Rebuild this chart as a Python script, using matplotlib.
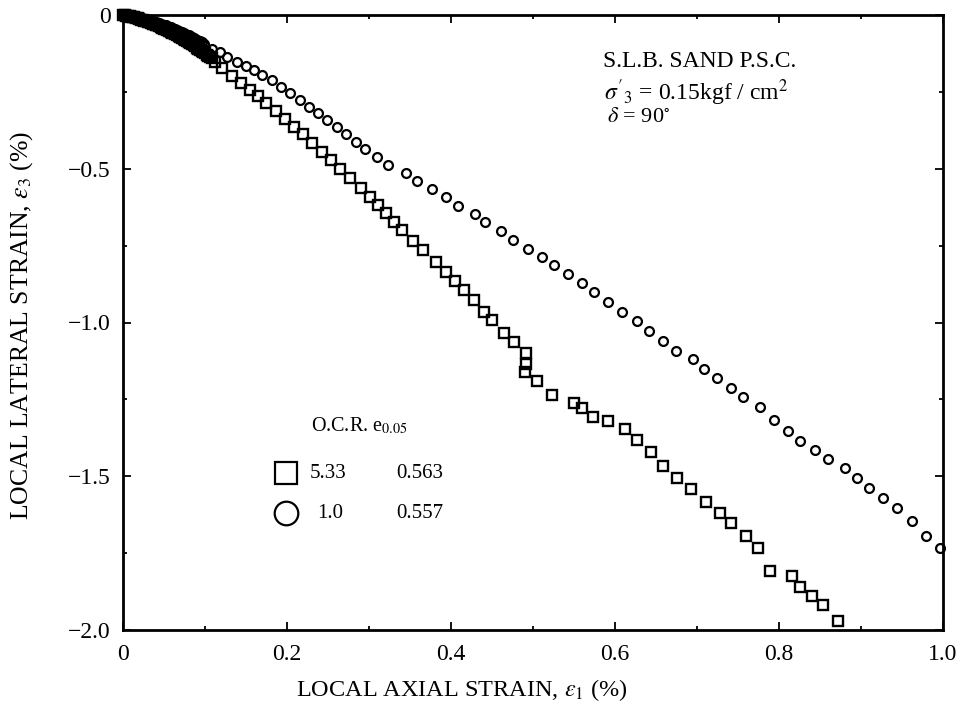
import matplotlib
matplotlib.use("Agg")
import matplotlib.pyplot as plt
from matplotlib.ticker import FixedLocator, FixedFormatter, MultipleLocator

plt.rcParams['font.family'] = ['Liberation Serif', 'DejaVu Serif']
plt.rcParams['mathtext.fontset'] = 'stix'

# ---- data: O.C.R. = 1.0 (circles) ----
circ_x = [0.000, 0.002, 0.004, 0.006, 0.008, 0.010, 0.012, 0.014, 0.016, 0.018,
          0.020, 0.022, 0.024, 0.026, 0.028, 0.030, 0.032, 0.034, 0.036, 0.038,
          0.040, 0.042, 0.044, 0.046, 0.048, 0.050, 0.052, 0.054, 0.056, 0.058,
          0.060, 0.062, 0.064, 0.066, 0.068, 0.070, 0.072, 0.074, 0.076, 0.078,
          0.080, 0.082, 0.084, 0.086, 0.088, 0.090, 0.092, 0.094, 0.096,
          0.099, 0.109, 0.118, 0.127, 0.139, 0.150, 0.160, 0.170, 0.182, 0.193,
          0.204, 0.216, 0.227, 0.238, 0.249, 0.261, 0.272, 0.284, 0.295, 0.310,
          0.323, 0.345, 0.359, 0.377, 0.394, 0.409, 0.429, 0.441, 0.461, 0.476,
          0.494, 0.511, 0.526, 0.543, 0.560, 0.574, 0.591, 0.609, 0.627, 0.641,
          0.659, 0.674, 0.695, 0.709, 0.724, 0.741, 0.756, 0.777, 0.794, 0.811,
          0.826, 0.844, 0.860, 0.880, 0.895, 0.910, 0.927, 0.944, 0.962, 0.979,
          0.996]
circ_y = [0.000, -0.001, -0.002, -0.002, -0.003, -0.004, -0.005, -0.006, -0.007, -0.008,
          -0.009, -0.010, -0.012, -0.013, -0.015, -0.016, -0.017, -0.019, -0.020, -0.022,
          -0.024, -0.025, -0.027, -0.029, -0.031, -0.032, -0.034, -0.036, -0.038, -0.040,
          -0.043, -0.045, -0.047, -0.049, -0.052, -0.054, -0.056, -0.059, -0.061, -0.064,
          -0.066, -0.069, -0.072, -0.075, -0.077, -0.080, -0.083, -0.086, -0.089,
          -0.094, -0.111, -0.120, -0.137, -0.153, -0.166, -0.179, -0.195, -0.211, -0.234,
          -0.254, -0.276, -0.299, -0.319, -0.341, -0.364, -0.387, -0.413, -0.436, -0.462,
          -0.488, -0.514, -0.540, -0.566, -0.592, -0.621, -0.647, -0.673, -0.702, -0.732,
          -0.761, -0.787, -0.813, -0.842, -0.872, -0.901, -0.933, -0.966, -0.995, -1.028,
          -1.060, -1.093, -1.119, -1.151, -1.180, -1.213, -1.242, -1.275, -1.317, -1.353,
          -1.385, -1.415, -1.444, -1.473, -1.506, -1.538, -1.571, -1.603, -1.646, -1.694,
          -1.733]

# ---- data: O.C.R. = 5.33 (squares) ----
sq_x = [0.000, 0.002, 0.004, 0.006, 0.008, 0.010, 0.012, 0.014, 0.016, 0.018,
        0.020, 0.022, 0.024, 0.026, 0.028, 0.030, 0.032, 0.034, 0.036, 0.038,
        0.040, 0.042, 0.044, 0.046, 0.048, 0.050, 0.052, 0.054, 0.056, 0.058,
        0.060, 0.062, 0.064, 0.066, 0.068, 0.070, 0.072, 0.074, 0.076, 0.078,
        0.080, 0.082, 0.084, 0.086, 0.088, 0.090, 0.092, 0.094, 0.096, 0.098,
        0.100, 0.102, 0.104, 0.106, 0.108,
        0.112, 0.121, 0.133, 0.144, 0.155, 0.165, 0.174, 0.187, 0.198, 0.209,
        0.220, 0.230, 0.243, 0.254, 0.265, 0.277, 0.290, 0.301, 0.311, 0.321,
        0.330, 0.340, 0.354, 0.366, 0.382, 0.394, 0.405, 0.416, 0.428, 0.440,
        0.450, 0.465, 0.477, 0.491, 0.491, 0.490, 0.505, 0.523, 0.550, 0.560,
        0.573, 0.591, 0.612, 0.627, 0.644, 0.659, 0.676, 0.693, 0.711, 0.728,
        0.741, 0.760, 0.774, 0.789, 0.816, 0.826, 0.840, 0.854, 0.872]
sq_y = [0.000, -0.001, -0.002, -0.003, -0.004, -0.006, -0.007, -0.008, -0.010, -0.011,
        -0.013, -0.015, -0.016, -0.018, -0.020, -0.022, -0.024, -0.026, -0.028, -0.030,
        -0.032, -0.034, -0.037, -0.039, -0.041, -0.044, -0.046, -0.049, -0.052, -0.054,
        -0.057, -0.060, -0.063, -0.066, -0.069, -0.072, -0.075, -0.078, -0.081, -0.085,
        -0.088, -0.091, -0.095, -0.098, -0.102, -0.106, -0.109, -0.113, -0.117, -0.121,
        -0.125, -0.129, -0.133, -0.137, -0.141,
        -0.153, -0.172, -0.198, -0.221, -0.244, -0.263, -0.286, -0.312, -0.338, -0.364,
        -0.387, -0.416, -0.446, -0.472, -0.501, -0.530, -0.563, -0.592, -0.618, -0.644,
        -0.673, -0.699, -0.735, -0.764, -0.803, -0.836, -0.865, -0.894, -0.927, -0.966,
        -0.992, -1.034, -1.063, -1.099, -1.135, -1.161, -1.190, -1.236, -1.262, -1.278,
        -1.307, -1.320, -1.346, -1.382, -1.421, -1.467, -1.506, -1.541, -1.584, -1.620,
        -1.652, -1.694, -1.733, -1.808, -1.824, -1.860, -1.889, -1.919, -1.971]

x_ticks = [0, 0.2, 0.4, 0.6, 0.8, 1.0]
x_tick_labels = ["0", "0.2", "0.4", "0.6", "0.8", "1.0"]
y_ticks = [0, -0.5, -1.0, -1.5, -2.0]
y_tick_labels = ["0", "\u22120.5", "\u22121.0", "\u22121.5", "\u22122.0"]

fig = plt.figure(figsize=(9.61, 7.05), dpi=100)
ax = fig.add_axes([123/961, 1 - 630/705, 820/961, 615/705])

ax.plot(circ_x, circ_y, linestyle='none', marker='o', markersize=6.4,
        markerfacecolor='none', markeredgecolor='black', markeredgewidth=1.6,
        clip_on=False, zorder=3)
ax.plot(sq_x, sq_y, linestyle='none', marker='s', markersize=6.6,
        markerfacecolor='none', markeredgecolor='black', markeredgewidth=1.7,
        clip_on=False, zorder=3)

ax.set_xlim(0, 1.0)
ax.set_ylim(-2.0, 0)
ax.xaxis.set_major_locator(FixedLocator(x_ticks))
ax.xaxis.set_major_formatter(FixedFormatter(x_tick_labels))
ax.yaxis.set_major_locator(FixedLocator(y_ticks))
ax.yaxis.set_major_formatter(FixedFormatter(y_tick_labels))
ax.xaxis.set_minor_locator(MultipleLocator(0.1))
ax.yaxis.set_minor_locator(MultipleLocator(0.25))
ax.tick_params(which='both', direction='in', top=True, right=True, width=1.3,
               labelsize=17, colors='black')
ax.tick_params(which='major', length=6)
ax.tick_params(which='minor', length=3)
ax.tick_params(axis='x', which='major', pad=10)
ax.tick_params(axis='y', which='major', pad=9)
for s in ax.spines.values():
    s.set_linewidth(2.0)

fig.text(0.481, 1 - 690/705, r"LOCAL AXIAL STRAIN, $\varepsilon_1$ (%)",
         ha='center', va='center', fontsize=17.5)
fig.text(22/961, 1 - 325/705, r"LOCAL LATERAL STRAIN, $\varepsilon_3$ (%)",
         ha='center', va='center', rotation=90, fontsize=18.5)

# annotation block
ax.text(0.585, 0.924, "S.L.B. SAND P.S.C.", transform=ax.transAxes,
        ha='left', va='center', fontsize=17)
ax.text(0.587, 0.873, r"$\sigma'_3$ = 0.15kgf / cm$^2$", transform=ax.transAxes,
        ha='left', va='center', fontsize=17)
ax.text(0.590, 0.833, r"$\delta$ = 90$^{\circ}$", transform=ax.transAxes,
        ha='left', va='center', fontsize=16)

# legend block
ax.text(0.229, 0.332, r"O.C.R. e$_{0.05}$", transform=ax.transAxes,
        ha='left', va='center', fontsize=14.5)
ax.plot([0.199], [0.255], transform=ax.transAxes, marker='s', markersize=16,
        markerfacecolor='white', markeredgecolor='black', markeredgewidth=1.6,
        linestyle='none')
ax.plot([0.199], [0.190], transform=ax.transAxes, marker='o', markersize=17,
        markerfacecolor='white', markeredgecolor='black', markeredgewidth=1.6,
        linestyle='none')
ax.text(0.228, 0.255, "5.33", transform=ax.transAxes, ha='left', va='center', fontsize=15)
ax.text(0.237, 0.190, "1.0", transform=ax.transAxes, ha='left', va='center', fontsize=15)
ax.text(0.333, 0.255, "0.563", transform=ax.transAxes, ha='left', va='center', fontsize=15)
ax.text(0.333, 0.190, "0.557", transform=ax.transAxes, ha='left', va='center', fontsize=15)

fig.savefig("out.png", dpi=100)
